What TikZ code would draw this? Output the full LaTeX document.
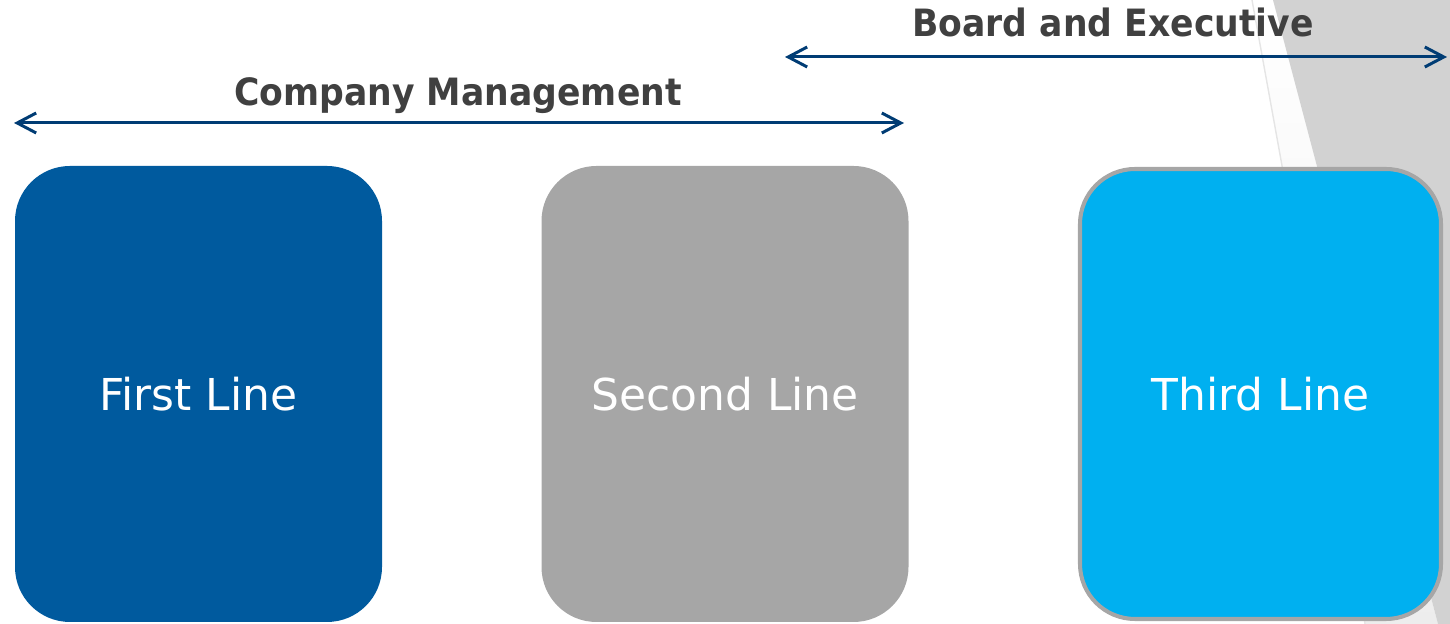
\documentclass[tikz,border=0pt]{standalone}
\usepackage{fontspec}
\setmainfont{DejaVu Sans}
\newfontfamily\headfont{DejaVu Sans}[FakeStretch=0.92]
\usetikzlibrary{arrows.meta, positioning, calc}
\definecolor{firstblue}{HTML}{005A9E}
\definecolor{secondgray}{HTML}{A6A6A6}
\definecolor{thirdblue}{HTML}{00B0F0}
\definecolor{spanblue}{HTML}{003C74}
\definecolor{headgray}{HTML}{404040}
\definecolor{sidegray}{HTML}{D2D2D2}

\begin{document}
\begin{tikzpicture}[
    linebox/.style={rounded corners=1.1cm, minimum width=7.34cm, minimum height=9.12cm,
      text=white, font=\fontsize{25}{29}\selectfont},
    span/.style={draw=spanblue, line width=1.7pt,
      {Straight Barb[length=0.38cm, width=0.4cm]}-{Straight Barb[length=0.38cm, width=0.4cm]}},
    heading/.style={anchor=base, text=headgray, font=\headfont\bfseries\fontsize{21.4}{25}\selectfont}
  ]
  \useasboundingbox (0,0) rectangle (29,12.48);

  % slanted grey strip at the right edge
  \shade[top color=white, middle color=white, bottom color=black!7] (25.04,12.48) -- (25.46,12.48) -- (28.76,0) -- (27.30,0) -- cycle;
  \fill[sidegray] (25.46,12.48) -- (29,12.48) -- (29,0) -- (28.76,0) -- cycle;
  \draw[black!10, line width=0.8pt] (25.04,12.48) -- (27.30,0);

  % the three lines
  \node[linebox, fill=firstblue] (first) at (3.97,4.60) {First Line};
  \node[linebox, fill=secondgray] (second) at (14.50,4.60) {Second Line};
  \node[linebox, fill=thirdblue, draw=secondgray, line width=2.3pt,
    minimum width=7.22cm, minimum height=9.0cm] (third) at (25.21,4.60) {Third Line};

  % who looks after which lines
  \coordinate (cm left) at (0.28,10.02);
  \coordinate (cm right) at (18.08,10.02);
  \draw[span] (cm left) -- (cm right);
  \node[heading] (cm) at (9.16,10.36) {Company Management};

  \coordinate (be left) at (15.70,11.34);
  \coordinate (be right) at (28.94,11.34);
  \draw[span] (be left) -- (be right);
  \node[heading] (be) at (22.26,11.74) {Board and Executive};
\end{tikzpicture}
\end{document}
